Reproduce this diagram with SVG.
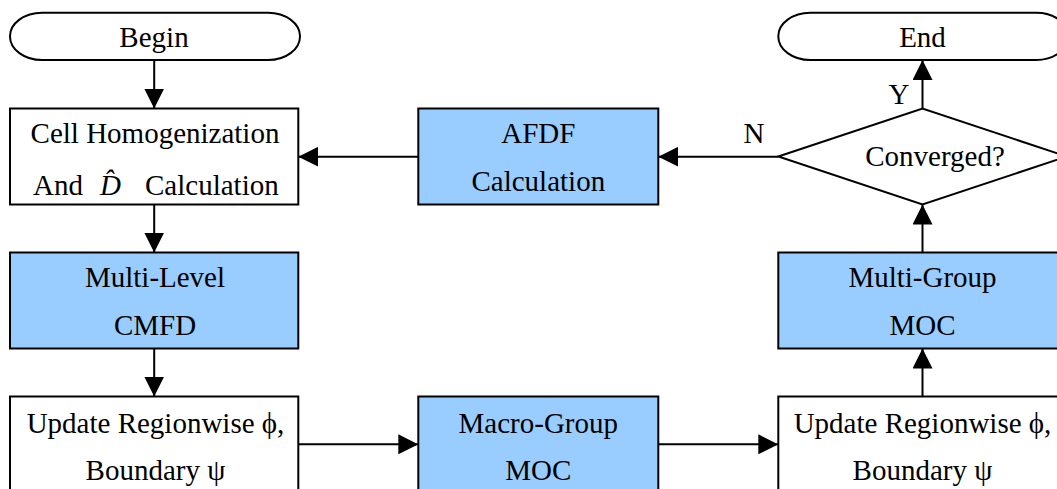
<svg xmlns="http://www.w3.org/2000/svg" width="1057" height="489" viewBox="0 0 1057 489">
<style>
  .box { fill: #ffffff; stroke: #000; stroke-width: 2; }
  .blue { fill: #99CCFF; stroke: #000; stroke-width: 2; }
  .term { fill: #ffffff; stroke: #000; stroke-width: 2; }
  .t { font-family: "Liberation Serif", "Times New Roman", serif; font-size: 29px; fill: #000; text-anchor: middle; }
  .ts { font-family: "Liberation Serif", "Times New Roman", serif; font-size: 29px; fill: #000; }
  .edge { fill: none; stroke: #000; stroke-width: 2; marker-end: url(#arr); }
</style>
<defs>
  <marker id="arr" markerUnits="userSpaceOnUse" markerWidth="20" markerHeight="20" refX="20" refY="10" orient="auto" viewBox="0 0 20 20">
    <path d="M0,0 L20,10 L0,20 z" fill="#000"/>
  </marker>
</defs>
<rect width="1057" height="489" fill="#ffffff"/>
<g id="connectors">
  <line class="edge" x1="154.2" y1="60" x2="154.2" y2="108.5"/>
  <line class="edge" x1="154.2" y1="204.5" x2="154.2" y2="252.5"/>
  <line class="edge" x1="154.2" y1="348.5" x2="154.2" y2="396.5"/>
  <line class="edge" x1="298.3" y1="444.3" x2="418.3" y2="444.3"/>
  <line class="edge" x1="658.3" y1="444.3" x2="778.3" y2="444.3"/>
  <line class="edge" x1="922.5" y1="396.5" x2="922.5" y2="348.5"/>
  <line class="edge" x1="922.5" y1="252.5" x2="922.5" y2="204.5"/>
  <line class="edge" x1="922.5" y1="108.5" x2="922.5" y2="60"/>
  <line class="edge" x1="778.3" y1="156.7" x2="658.3" y2="156.7"/>
  <line class="edge" x1="418.3" y1="156.7" x2="298.3" y2="156.7"/>
  <text class="t" x="754" y="142.7">N</text>
  <text class="t" x="899" y="104">Y</text>
</g>
<g id="begin">
  <rect class="term" x="10" y="12.7" width="290" height="47.3" rx="32" ry="23.6"/>
  <text class="t" x="154" y="46.7">Begin</text>
</g>
<g id="end">
  <rect class="term" x="778.3" y="12.7" width="290" height="47.3" rx="32" ry="23.6"/>
  <text class="t" x="922.5" y="46.7">End</text>
</g>
<g id="cell-homogenization">
  <rect class="box" x="10" y="108.5" width="288.3" height="96"/>
  <text class="t" x="155" y="143.3">Cell Homogenization</text>
  <text class="ts" x="33" y="195">And</text>
  <text class="ts" x="100" y="195" font-style="italic">D&#x302;</text>
  <text class="ts" x="145" y="195">Calculation</text>
</g>
<g id="afdf">
  <rect class="blue" x="418.3" y="108.5" width="240" height="96"/>
  <text class="t" x="538.3" y="143.3">AFDF</text>
  <text class="t" x="538.3" y="190.7">Calculation</text>
</g>
<g id="converged">
  <polygon points="778.3,156.5 922.5,108.5 1066.7,156.5 922.5,204.5" fill="#ffffff" stroke="#000" stroke-width="2"/>
  <text class="t" x="935" y="166">Converged?</text>
</g>
<g id="cmfd">
  <rect class="blue" x="10" y="252.5" width="288.3" height="96"/>
  <text class="t" x="155" y="286.7">Multi-Level</text>
  <text class="t" x="155" y="335">CMFD</text>
</g>
<g id="multi-group-moc">
  <rect class="blue" x="778.3" y="252.5" width="290" height="96"/>
  <text class="t" x="922.5" y="287.3">Multi-Group</text>
  <text class="t" x="922.5" y="335">MOC</text>
</g>
<g id="update-left">
  <rect class="box" x="10" y="396.5" width="288.3" height="96"/>
  <text class="t" x="155.5" y="432.7">Update Regionwise ϕ,</text>
  <text class="t" x="155.5" y="480">Boundary ψ</text>
</g>
<g id="macro-group-moc">
  <rect class="blue" x="418.3" y="396.5" width="240" height="96"/>
  <text class="t" x="538.3" y="432.7">Macro-Group</text>
  <text class="t" x="538.3" y="480">MOC</text>
</g>
<g id="update-right">
  <rect class="box" x="778.3" y="396.5" width="290" height="96"/>
  <text class="t" x="922.5" y="432.7">Update Regionwise ϕ,</text>
  <text class="t" x="922.5" y="480">Boundary ψ</text>
</g>
</svg>
